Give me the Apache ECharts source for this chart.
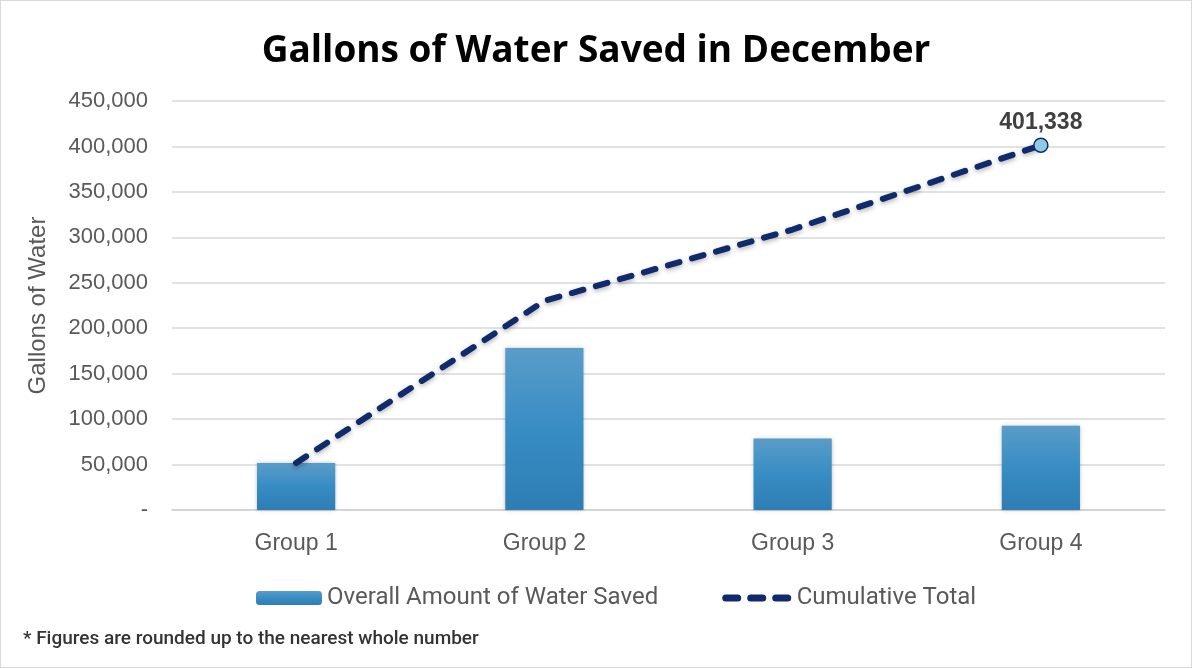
<!DOCTYPE html>
<html>
<head>
<meta charset="utf-8">
<script src="https://cdn.jsdelivr.net/npm/echarts@6/dist/echarts.min.js"></script>
<style>
  html, body { margin: 0; padding: 0; background: #fff; }
  #chart {
    width: 1190px;
    height: 666px;
    border: 1px solid #d9d9d9;
  }
</style>
</head>
<body>
<div id="chart"></div>
<script>
const groups = ['Group 1', 'Group 2', 'Group 3', 'Group 4']
const waterSaved = [51800, 178200, 78600, 92738]
const cumulativeTotal = [51800, 230000, 308600, 401338]
const yTicks = { min: 0, max: 450000, step: 50000 }

const fmtNum = v => v === 0 ? '-' : v.toLocaleString('en-US')

const chart = echarts.init(document.getElementById('chart'))

const option = {
  animation: false,
  title: {
    text: 'Gallons of Water Saved in December',
    left: 'center',
    top: 27,
    textStyle: {
      fontFamily: 'Open Sans',
      fontSize: 37,
      fontWeight: 'bold',
      color: '#000'
    }
  },
  grid: {
    left: 171,
    right: 26,
    top: 100,
    bottom: 157
  },
  legend: {
    top: 580,
    left: 250,
    itemGap: 64,
    itemWidth: 66,
    itemHeight: 14,
    textStyle: { fontFamily: 'Roboto', fontSize: 24, color: '#595959' },
    data: [
      { name: 'Overall Amount of Water Saved' },
      { name: 'Cumulative Total', itemStyle: { opacity: 0 }, lineStyle: { width: 7, type: [12, 13], cap: 'round' } }
    ]
  },
  graphic: [
    {
      type: 'text',
      left: 22,
      top: 629,
      style: {
        text: '* Figures are rounded up to the nearest whole number',
        font: '500 19px Roboto',
        fill: '#333'
      }
    }
  ],
  xAxis: {
    type: 'category',
    data: groups,
    axisLine: { lineStyle: { color: '#d0d0d0', width: 1.5 } },
    axisTick: { show: false },
    axisLabel: {
      margin: 22,
      fontFamily: 'Liberation Sans',
      fontSize: 23,
      color: '#595959'
    }
  },
  yAxis: {
    type: 'value',
    min: yTicks.min,
    max: yTicks.max,
    interval: yTicks.step,
    name: 'Gallons of Water',
    nameLocation: 'middle',
    nameGap: 122,
    nameTextStyle: { fontFamily: 'Liberation Sans', fontSize: 24, color: '#595959' },
    axisLine: { show: false },
    axisTick: { show: false },
    splitLine: { lineStyle: { color: '#d9d9d9', width: 1.5 } },
    axisLabel: {
      margin: 24,
      fontFamily: 'Liberation Sans',
      fontSize: 22,
      color: '#595959',
      formatter: fmtNum
    }
  },
  series: [
    {
      name: 'Overall Amount of Water Saved',
      type: 'bar',
      data: waterSaved,
      barWidth: '31.5%',
      itemStyle: {
        color: new echarts.graphic.LinearGradient(0, 0, 0, 1, [
          { offset: 0, color: '#5a9cc8' },
          { offset: 0.5, color: '#378dc4' },
          { offset: 1, color: '#2e7db3' }
        ]),
        shadowColor: 'rgba(0,0,0,0.25)',
        shadowBlur: 4
      }
    },
    {
      name: 'Cumulative Total',
      type: 'line',
      data: cumulativeTotal.map((v, i) => i === cumulativeTotal.length - 1
        ? {
            value: v,
            symbol: 'circle',
            symbolSize: 14,
            itemStyle: { color: '#8ecae6', borderColor: '#0f2b6b', borderWidth: 1.5 },
            label: {
              show: true,
              position: 'top',
              distance: 3,
              formatter: p => fmtNum(p.value),
              fontFamily: 'Liberation Sans',
              fontSize: 23,
              fontWeight: 'bold',
              color: '#404040'
            }
          }
        : { value: v, symbol: 'none' }),
      lineStyle: {
        color: '#0f2b6b',
        width: 6,
        type: [12, 13],
        cap: 'round',
        shadowColor: 'rgba(0,0,0,0.3)',
        shadowBlur: 5,
        shadowOffsetY: 2
      },
      itemStyle: { color: '#0f2b6b' },
      z: 5
    }
  ]
}

chart.setOption(option)
</script>
</body>
</html>
